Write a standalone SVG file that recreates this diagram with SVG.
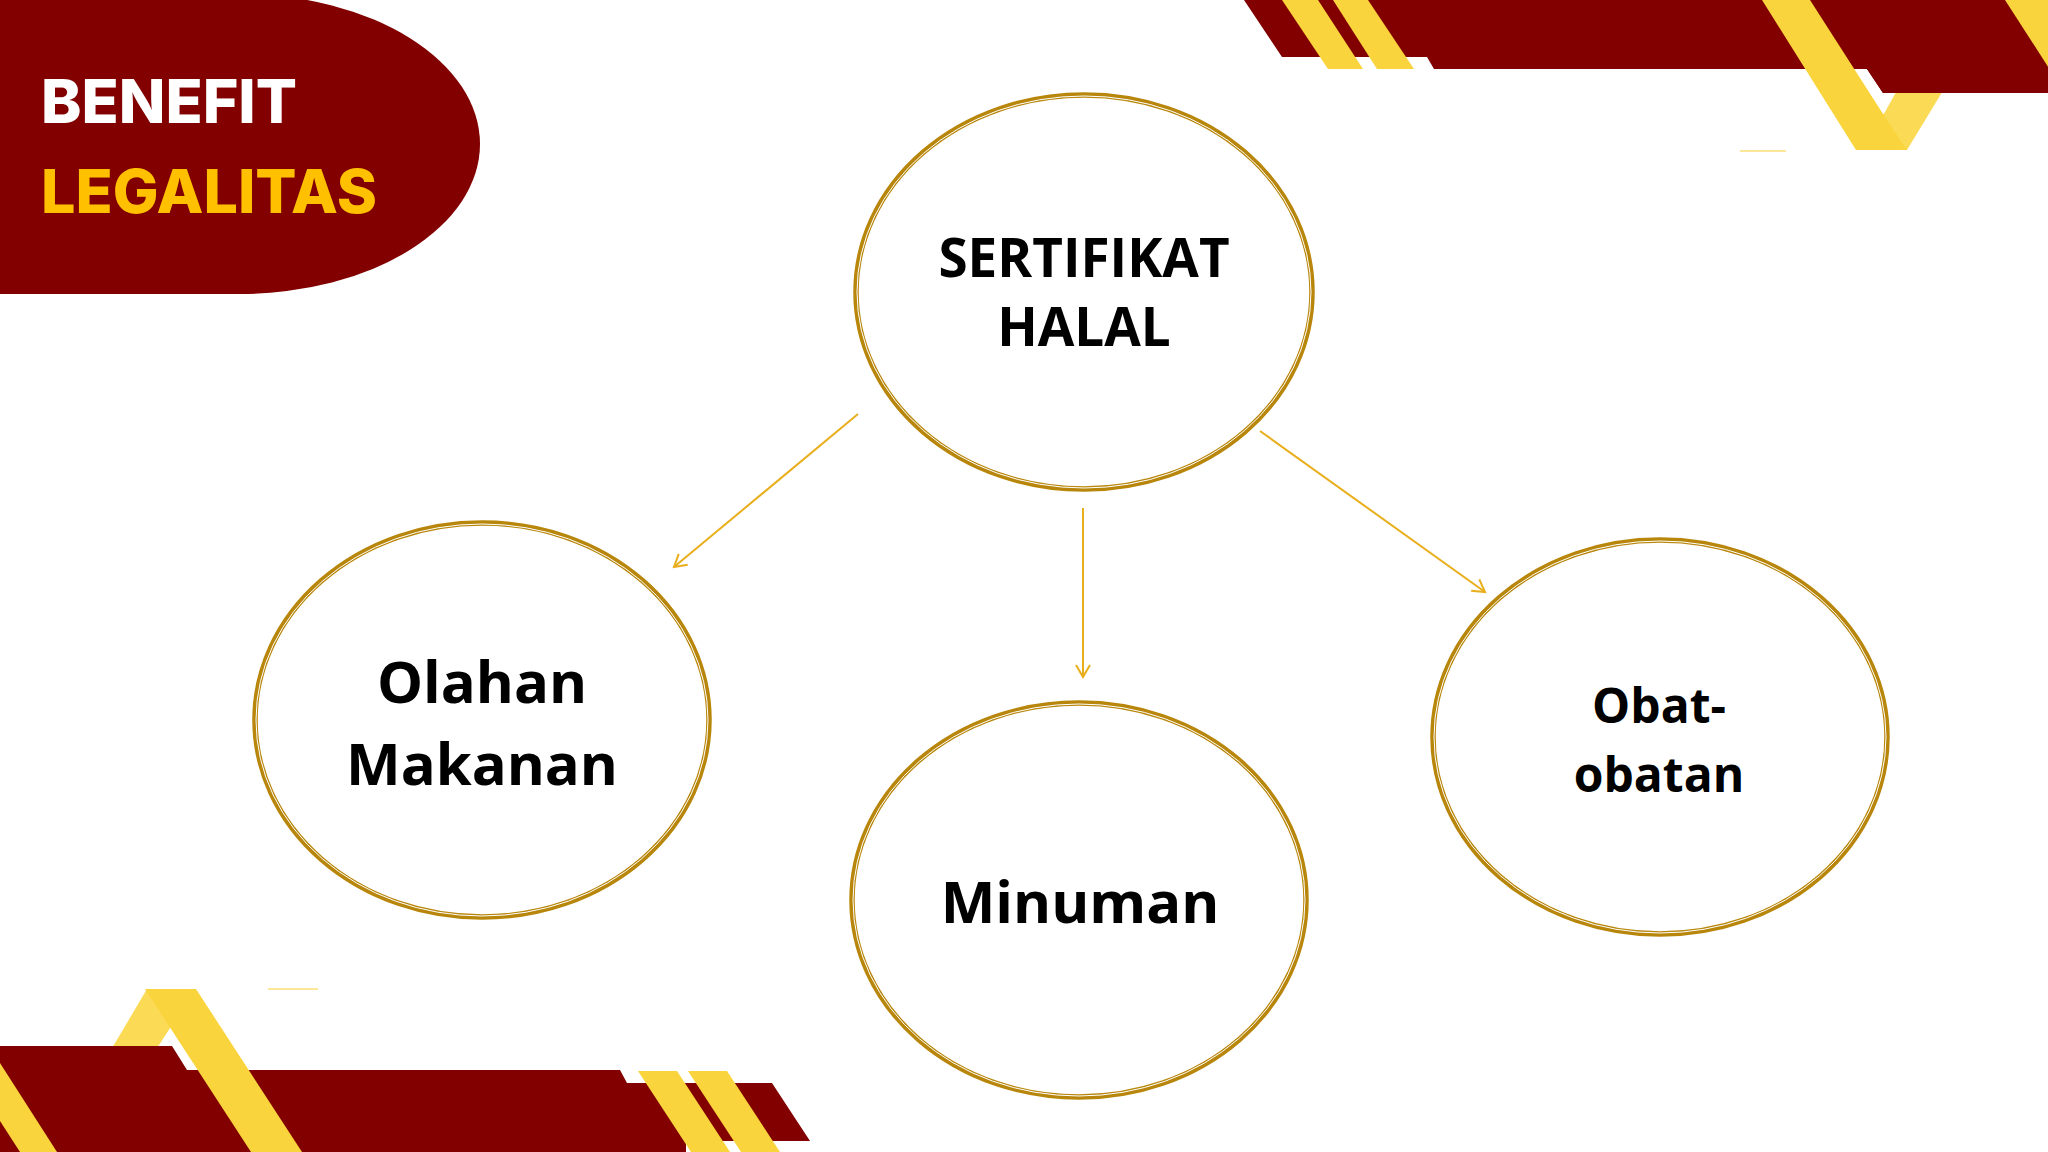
<svg xmlns="http://www.w3.org/2000/svg" width="2048" height="1152" viewBox="0 0 2048 1152">
  <defs>
    <style>
      .red { fill: #820000; }
      .yel { fill: #FAD43C; }
      .yel2 { fill: #FBDA55; }
      .pale { stroke: #FBE69A; stroke-width: 2; }
      .ring { fill: #FFFFFF; stroke: #B8860B; stroke-width: 5.5; }
      .ringin { fill: none; stroke: #FFFFFF; stroke-width: 1; }
      .lbl { font-family: "Open Sans", "Noto Sans", "Liberation Sans", sans-serif; font-weight: 700; fill: #000000; text-anchor: middle; }
      .title { font-family: Inter, "Liberation Sans", sans-serif; font-weight: 800; }
      .conn { stroke: #E9AE1C; stroke-width: 2; fill: none; }
    </style>
    <marker id="arrow" markerUnits="userSpaceOnUse" markerWidth="20" markerHeight="20" viewBox="0 0 20 20" refX="14" refY="10" orient="auto">
      <path d="M2,3 L14,10 L2,17" fill="none" stroke="#E9AE1C" stroke-width="2"/>
    </marker>
  </defs>
  <rect width="2048" height="1152" fill="#FFFFFF"/>

  <!-- top-left banner -->
  <g id="banner">
    <rect class="red" x="0" y="0" width="242" height="294"/>
    <ellipse class="red" cx="240" cy="144" rx="240" ry="150"/>
    <rect class="red" x="0" y="0" width="300" height="4"/>
    <text class="title" x="41" y="123" font-size="61" fill="#FFFFFF">BENEFIT</text>
    <text class="title" x="41" y="213" font-size="61" fill="#FFC000">LEGALITAS</text>
  </g>

  <!-- top-right decoration -->
  <g id="deco-top-right">
    <polygon class="red" points="1244,0 2048,0 2048,93 1883,93 1867,69 1434,69 1427,57 1282,57"/>
    <polygon class="yel" points="1282,0 1318,0 1363,69 1328,69"/>
    <polygon class="yel" points="1333,0 1368,0 1414,69 1377,69"/>
    <polygon class="yel2" points="1947,0 1998,0 1907,150 1856,150 1885,112"/>
    <polygon class="yel" points="1762,0 1810,0 1885,117 1907,150 1856,150"/>
    <polygon class="red" points="1812,0 2048,0 2048,93 1883,93 1867,69 1855,69"/>
    <polygon class="yel" points="2005,0 2052,0 2112,93 2065,93"/>
    <line class="pale" x1="1740" y1="151" x2="1786" y2="151"/>
  </g>

  <!-- bottom-left decoration -->
  <g id="deco-bottom-left">
    <polygon class="yel2" points="147,989 196,989 172,1025 135,1082 92,1082"/>
    <polygon class="red" points="0,1046 172,1046 187,1070 620,1070 627,1083 772,1083 810,1141 686,1141 686,1152 0,1152"/>
    <polygon class="yel" points="145,989 196,989 302,1152 251,1152"/>
    <polygon class="yel" points="0,1063 57,1152 20,1152 0,1121"/>
    <polygon class="yel" points="638,1071 677,1071 730,1152 691,1152"/>
    <polygon class="yel" points="688,1071 727,1071 780,1152 741,1152"/>
    <line class="pale" x1="268" y1="989" x2="318" y2="989"/>
  </g>

  <!-- connectors -->
  <g id="connectors">
    <line class="conn" x1="858" y1="414" x2="674" y2="567" marker-end="url(#arrow)"/>
    <line class="conn" x1="1083" y1="508" x2="1083" y2="677" marker-end="url(#arrow)"/>
    <line class="conn" x1="1260" y1="431" x2="1485" y2="592" marker-end="url(#arrow)"/>
  </g>

  <!-- nodes -->
  <g id="node-sertifikat">
    <ellipse class="ring" cx="1084" cy="292" rx="228" ry="197"/>
    <ellipse class="ringin" cx="1084" cy="292" rx="227" ry="196"/>
    <text class="lbl" x="1084" y="277" font-size="53">SERTIFIKAT</text>
    <text class="lbl" x="1084" y="346" font-size="53">HALAL</text>
  </g>
  <g id="node-olahan">
    <ellipse class="ring" cx="482" cy="720" rx="227" ry="197"/>
    <ellipse class="ringin" cx="482" cy="720" rx="226" ry="196"/>
    <text class="lbl" x="482" y="703" font-size="58">Olahan</text>
    <text class="lbl" x="482" y="785" font-size="58">Makanan</text>
  </g>
  <g id="node-minuman">
    <ellipse class="ring" cx="1079" cy="900" rx="227" ry="197"/>
    <ellipse class="ringin" cx="1079" cy="900" rx="226" ry="196"/>
    <text class="lbl" x="1080" y="923" font-size="58">Minuman</text>
  </g>
  <g id="node-obat">
    <ellipse class="ring" cx="1660" cy="737" rx="227" ry="197"/>
    <ellipse class="ringin" cx="1660" cy="737" rx="226" ry="196"/>
    <text class="lbl" x="1659" y="723" font-size="48">Obat-</text>
    <text class="lbl" x="1659" y="792" font-size="48">obatan</text>
  </g>
</svg>
